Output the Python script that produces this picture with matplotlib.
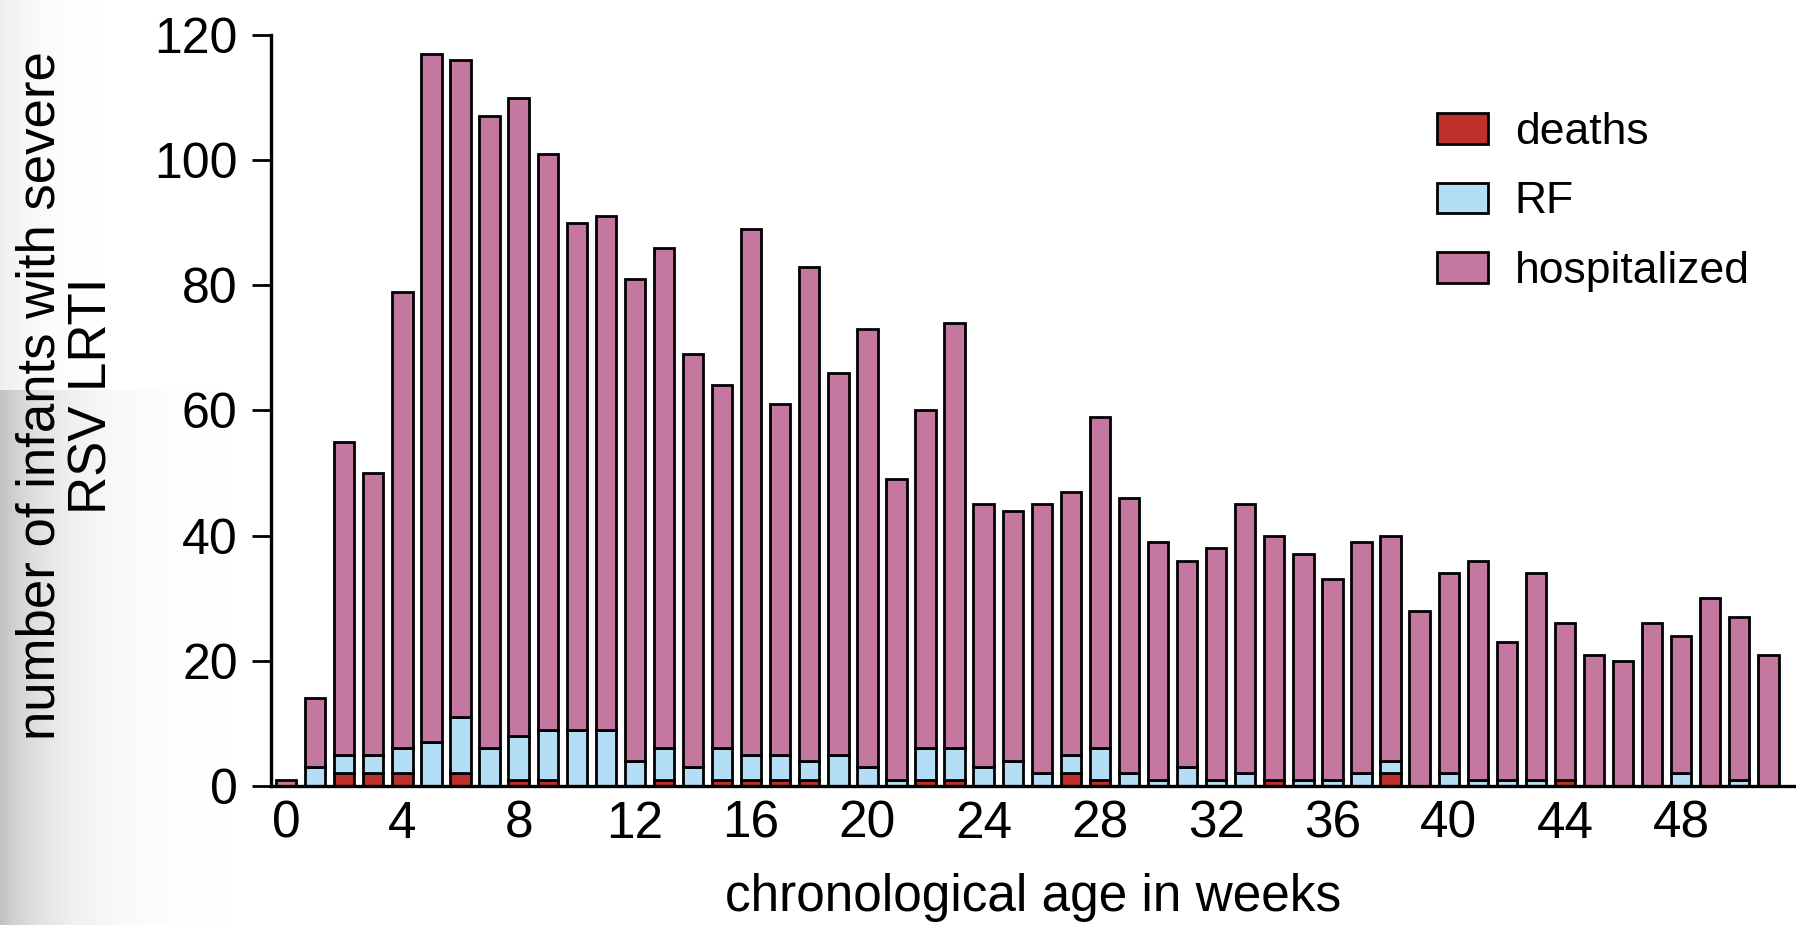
import numpy as np
import matplotlib
matplotlib.use("Agg")
import matplotlib.pyplot as plt

plt.rcParams['font.family'] = ['Liberation Sans', 'DejaVu Sans']

# chronological age in weeks
weeks = list(range(52))
# total height of each stacked bar (deaths + RF + hospitalized)
totals = [1, 14, 55, 50, 79, 117, 116, 107, 110, 101,
          90, 91, 81, 86, 69, 64, 89, 61, 83, 66,
          73, 49, 60, 74, 45, 44, 45, 47, 59, 46,
          39, 36, 38, 45, 40, 37, 33, 39, 40, 28,
          34, 36, 23, 34, 26, 21, 20, 26, 24, 30,
          27, 21]
deaths = [0, 0, 2, 2, 2, 0, 2, 0, 1, 1,
          0, 0, 0, 1, 0, 1, 1, 1, 1, 0,
          0, 0, 1, 1, 0, 0, 0, 2, 1, 0,
          0, 0, 0, 0, 1, 0, 0, 0, 2, 0,
          0, 0, 0, 0, 1, 0, 0, 0, 0, 0,
          0, 0]
rf = [0, 3, 3, 3, 4, 7, 9, 6, 7, 8,
      9, 9, 4, 5, 3, 5, 4, 4, 3, 5,
      3, 1, 5, 5, 3, 4, 2, 3, 5, 2,
      1, 3, 1, 2, 0, 1, 1, 2, 2, 0,
      2, 1, 1, 1, 0, 0, 0, 0, 2, 0,
      1, 0]

deaths = np.array(deaths)
rf = np.array(rf)
hosp = np.array(totals) - deaths - rf

c_death = '#c0302a'
c_rf = '#b3def5'
c_hosp = '#c4789f'

fig = plt.figure(figsize=(17.96, 9.25), dpi=100)

# greyish scan shading along the left edge
bg = fig.add_axes([0, 0, 1, 1], zorder=-1)
bg.axis('off')
px = np.arange(1796)
img = np.ones((925, 1796))
img[390:, :] = 1 - 0.24 * np.exp(-px / 55.0)
img[:390, :] = 1 - 0.07 * np.exp(-px / 35.0)
bg.imshow(img, cmap='gray', vmin=0, vmax=1, aspect='auto', extent=[0, 1, 0, 1],
          interpolation='bilinear')
bg.set_xlim(0, 1)
bg.set_ylim(0, 1)

ax = fig.add_axes([0.1509, 0.1503, 0.8491, 0.8119])
ax.patch.set_alpha(0)

w = 0.70
ew = 2.0
ax.bar(weeks, deaths, w, color=c_death, edgecolor='black', linewidth=ew, label='deaths')
ax.bar(weeks, rf, w, bottom=deaths, color=c_rf, edgecolor='black', linewidth=ew, label='RF')
ax.bar(weeks, hosp, w, bottom=deaths + rf, color=c_hosp, edgecolor='black', linewidth=ew,
       label='hospitalized')

ax.set_xlim(-0.52, 51.95)
ax.set_ylim(0, 120)
ax.set_xticks(range(0, 49, 4))
ax.set_yticks(range(0, 121, 20))
ax.spines['top'].set_visible(False)
ax.spines['right'].set_visible(False)
ax.spines['left'].set_linewidth(2.4)
ax.spines['bottom'].set_linewidth(2.4)
ax.tick_params(axis='x', length=0, pad=10, labelsize=37)
ax.tick_params(axis='y', length=14, width=2, pad=10, labelsize=36)

ax.set_xlabel('chronological age in weeks', fontsize=37)
ax.xaxis.label.set_va('center')
ax.xaxis.set_label_coords(0.5, -0.148)
ax.set_ylabel('number of infants with severe\nRSV LRTI', fontsize=38, linespacing=1.05)
ax.yaxis.label.set_va('center')
ax.yaxis.set_label_coords(-0.134, 0.52)

ax.legend(loc='upper left', bbox_to_anchor=(1437 / 1796, 1 - 112 / 925),
          bbox_transform=fig.transFigure, frameon=False, fontsize=32,
          handlelength=1.15, handleheight=0.68, handletextpad=0.6,
          labelspacing=0.64, borderpad=0, borderaxespad=0)

fig.savefig('out.png', dpi=100)
